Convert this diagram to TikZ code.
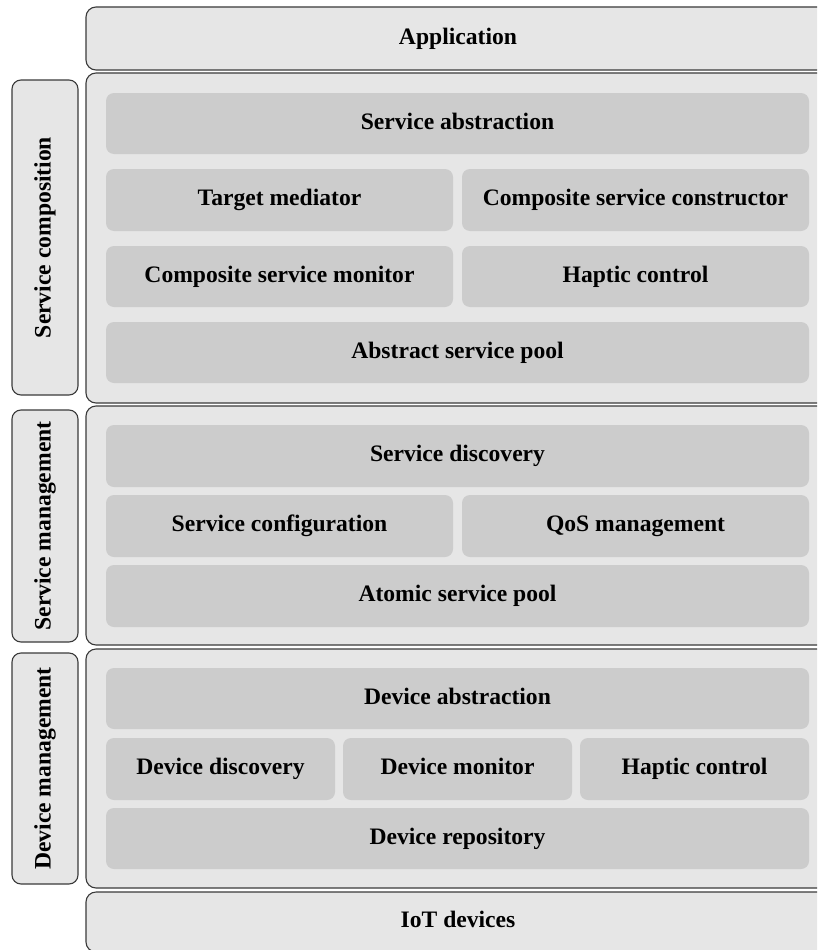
\documentclass[tikz,border=0pt]{standalone}
\usepackage{fontspec}
\setmainfont{Liberation Serif}
\definecolor{outerfill}{HTML}{E6E6E6}
\definecolor{innerfill}{HTML}{CCCCCC}
\definecolor{edge}{HTML}{3A3A3A}
\tikzset{
  layerbox/.style={draw=edge, line width=1.1pt, fill=outerfill, rounded corners=10pt, inner sep=0pt, font=\fontsize{23.6}{28}\selectfont\bfseries, text height=11.6pt, text depth=0pt},
  sidebox/.style={draw=edge, line width=1.1pt, fill=outerfill, rounded corners=9pt, inner sep=0pt, font=\fontsize{23.6}{28}\selectfont\bfseries},
  modbox/.style={fill=innerfill, rounded corners=8pt, inner sep=0pt, font=\fontsize{23.6}{28}\selectfont\bfseries, text height=11.6pt, text depth=0pt}
}
\begin{document}
\begin{tikzpicture}[x=1pt, y=-1pt]
\useasboundingbox (0,0) rectangle (817,950);
\clip (0,0) rectangle (817,950);
% outer layers
\node[layerbox, minimum width=744, minimum height=63] (app) at (458,38.5) {Application};
\node[layerbox, minimum width=744, minimum height=330] (sc) at (458,238) {};
\node[layerbox, minimum width=744, minimum height=239] (sm) at (458,525.5) {};
\node[layerbox, minimum width=744, minimum height=239] (dm) at (458,768.5) {};
\node[layerbox, minimum width=744, minimum height=60] (iot) at (458,922) {IoT devices};
% side labels
\node[sidebox, minimum width=66, minimum height=315] (scl) at (45,237.5) {\rotatebox{90}{Service composition}};
\node[sidebox, minimum width=66, minimum height=232] (sml) at (45,526) {\rotatebox{90}{Service management}};
\node[sidebox, minimum width=66, minimum height=231] (dml) at (45,768.5) {\rotatebox{90}{Device management}};
% service composition
\node[modbox, minimum width=703, minimum height=61] (sabs) at (457.5,123.5) {Service abstraction};
\node[modbox, minimum width=347, minimum height=62] (tm) at (279.5,200) {Target mediator};
\node[modbox, minimum width=347, minimum height=62] (csc) at (635.5,200) {Composite service constructor};
\node[modbox, minimum width=347, minimum height=61] (csm) at (279.5,276.5) {Composite service monitor};
\node[modbox, minimum width=347, minimum height=61] (hc1) at (635.5,276.5) {Haptic control};
\node[modbox, minimum width=703, minimum height=61] (asp) at (457.5,352.5) {Abstract service pool};
% service management
\node[modbox, minimum width=703, minimum height=62] (sd) at (457.5,456) {Service discovery};
\node[modbox, minimum width=347, minimum height=62] (scf) at (279.5,526) {Service configuration};
\node[modbox, minimum width=347, minimum height=62] (qos) at (635.5,526) {QoS management};
\node[modbox, minimum width=703, minimum height=62] (atp) at (457.5,596) {Atomic service pool};
% device management
\node[modbox, minimum width=703, minimum height=61] (da) at (457.5,698.5) {Device abstraction};
\node[modbox, minimum width=229, minimum height=62] (ddis) at (220.5,769) {Device discovery};
\node[modbox, minimum width=229, minimum height=62] (dmon) at (457.5,769) {Device monitor};
\node[modbox, minimum width=229, minimum height=62] (hc2) at (694.5,769) {Haptic control};
\node[modbox, minimum width=703, minimum height=61] (drep) at (457.5,838.5) {Device repository};
\end{tikzpicture}
\end{document}
